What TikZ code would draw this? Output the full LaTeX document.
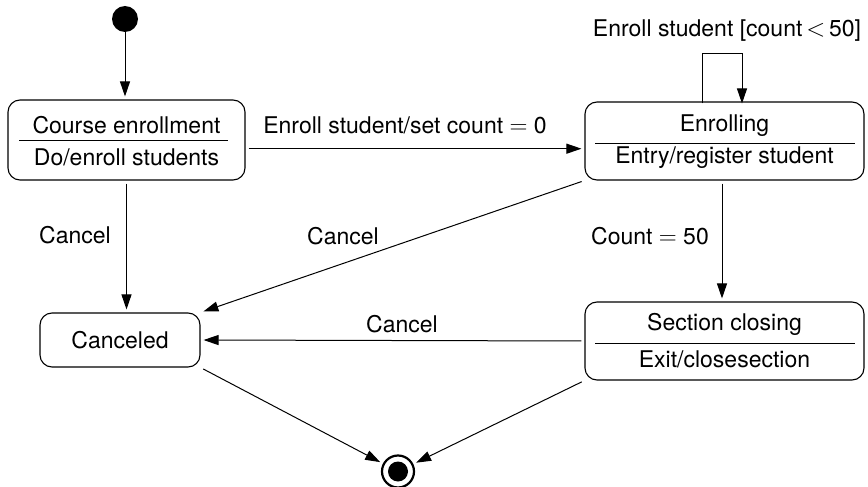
\documentclass[tikz,border=0pt]{standalone}
\usepackage{fontspec}
\setmainfont{TeX Gyre Heros}
\usetikzlibrary{arrows.meta,calc}
\begin{document}
\begin{tikzpicture}[x=1pt,y=-1pt,
  state/.style={draw, line width=1.1pt, rounded corners=12pt, inner sep=0pt, font=\fontsize{23}{27}\selectfont},
  txt/.style={inner sep=0pt, font=\fontsize{23}{27}\selectfont},
  lbl/.style={inner sep=0pt, font=\fontsize{23}{27}\selectfont},
  divider/.style={line width=1pt},
  edge/.style={line width=1pt, -{Triangle[length=15pt,width=10pt]}, shorten <=3pt, shorten >=3pt}
]
\useasboundingbox (0,0) rectangle (868,487);
% initial
\node[circle, fill=black, minimum size=26pt, inner sep=0pt] (init) at (125,19) {};
% Course enrollment
\node[state, minimum width=237pt, minimum height=80pt] (ce) at (126.5,140) {};
\node[txt] (ce1) at (126.5,125) {Course enrollment};
\node[txt] (ce2) at (126.5,157.5) {Do/enroll students};
\draw[divider] ([xshift=12pt]ce.west) -- ([xshift=-18pt]ce.east);
% Enrolling
\node[state, minimum width=279pt, minimum height=78pt] (en) at (724.5,141) {};
\node[txt] (en1) at (724.5,126) {Enrolling};
\node[txt] (en2) at (724.5,157.5) {Entry/register student};
\draw[divider] ($(en.west)+(11pt,-2pt)$) -- ($(en.east)+(-10pt,-2pt)$);
% Section closing
\node[state, minimum width=279pt, minimum height=78pt] (sc) at (724.5,341) {};
\node[txt] (sc1) at (724.5,324) {Section closing};
\node[txt] (sc2) at (724.5,359) {Exit/closesection};
\draw[divider] ($(sc.west)+(11pt,-2pt)$) -- ($(sc.east)+(-10pt,-2pt)$);
% Canceled
\node[state, minimum width=160pt, minimum height=54pt] (cn) at (120,340) {Canceled};
% final
\node[circle, draw, line width=2.2pt, minimum size=32pt, inner sep=0pt] (fin) at (398,471.5) {};
\node[circle, fill=black, minimum size=20pt, inner sep=0pt] (finin) at (fin) {};
% edges
\draw[edge, shorten <=0pt] (init) -- (init |- ce.north);
\draw[edge] (ce.east |- ce2.north) -- (en.west |- ce2.north);
\draw[edge] (ce.south) -- (ce.south |- cn.north);
\draw[edge] (en.south west) -- (cn.north east);
\draw[edge] ([xshift=-2.5pt]en.south) -- ([xshift=-2.5pt]en.south |- sc.north);
\draw[edge] (sc.west) -- (cn.east);
\draw[edge] (cn.south east) -- (fin);
\draw[edge] (sc.south west) -- (fin);
% self loop
\coordinate (l1) at ([xshift=-22.5pt]en.north);
\coordinate (l2) at ([xshift=17.5pt]en.north);
\draw[line width=1pt, -{Triangle[length=15pt,width=10pt]}] ([yshift=-2pt]l1) -- ++(0,-50) -| ([yshift=-2pt]l2);
% labels
\node[lbl] (t1) at (727,31) {Enroll student [count\,$<$\,50]};
\node[lbl] (t2) at (405,125) {Enroll student/set count $=$ 0};
\node[lbl] (t3) at (75,235) {Cancel};
\node[lbl] (t4) at (343,236) {Cancel};
\node[lbl] (t5) at (650,236) {Count $=$ 50};
\node[lbl] (t6) at (402,324) {Cancel};
\end{tikzpicture}
\end{document}
